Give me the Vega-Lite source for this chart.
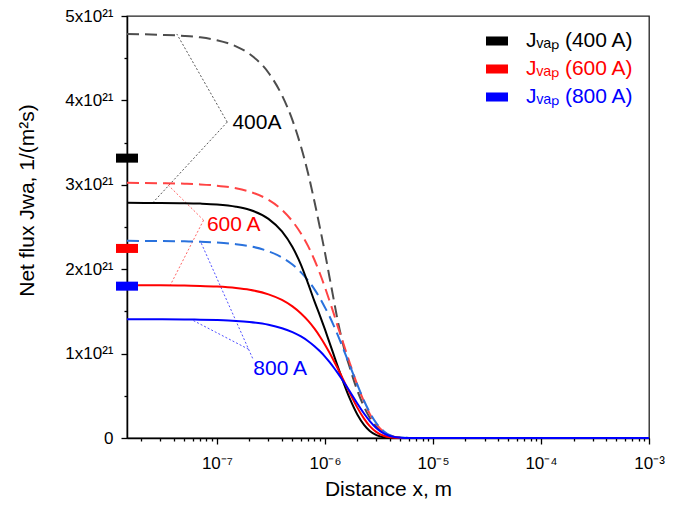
{
  "$schema": "https://vega.github.io/schema/vega-lite/v6.json",
  "width": 522,
  "height": 422,
  "autosize": {"type": "none"},
  "padding": {"left": 127, "top": 16, "right": 32, "bottom": 70},
  "background": "white",
  "config": {
    "font": "Liberation Sans",
    "view": {"stroke": "#222", "strokeWidth": 1.3},
    "axis": {"grid": false, "domainColor": "#000", "domainWidth": 1.5, "tickColor": "#000", "tickWidth": 1.3, "labelColor": "#000", "titleColor": "#000", "titleFontWeight": "normal", "labelFont": "Liberation Sans", "titleFont": "Liberation Sans"}
  },
  "datasets": {
    "solid": [
      {"cur": "400 A", "x": 1.47e-8, "J": 2.786}, {"cur": "400 A", "x": 3e-8, "J": 2.785}, {"cur": "400 A", "x": 5e-8, "J": 2.782}, {"cur": "400 A", "x": 7e-8, "J": 2.777}, {"cur": "400 A", "x": 1e-7, "J": 2.767}, {"cur": "400 A", "x": 1.5e-7, "J": 2.741}, {"cur": "400 A", "x": 2e-7, "J": 2.704}, {"cur": "400 A", "x": 3e-7, "J": 2.596}, {"cur": "400 A", "x": 4e-7, "J": 2.447}, {"cur": "400 A", "x": 5e-7, "J": 2.262}, {"cur": "400 A", "x": 6e-7, "J": 2.052}, {"cur": "400 A", "x": 7e-7, "J": 1.826}, {"cur": "400 A", "x": 8e-7, "J": 1.618}, {"cur": "400 A", "x": 9e-7, "J": 1.447}, {"cur": "400 A", "x": 1e-6, "J": 1.286}, {"cur": "400 A", "x": 1.1e-6, "J": 1.133}, {"cur": "400 A", "x": 1.2e-6, "J": 0.993}, {"cur": "400 A", "x": 1.3e-6, "J": 0.864}, {"cur": "400 A", "x": 1.4e-6, "J": 0.747}, {"cur": "400 A", "x": 1.5e-6, "J": 0.642}, {"cur": "400 A", "x": 1.7e-6, "J": 0.466}, {"cur": "400 A", "x": 2e-6, "J": 0.276}, {"cur": "400 A", "x": 2.3e-6, "J": 0.156}, {"cur": "400 A", "x": 2.6e-6, "J": 0.084}, {"cur": "400 A", "x": 3e-6, "J": 0.035}, {"cur": "400 A", "x": 3.5e-6, "J": 0.010}, {"cur": "400 A", "x": 4e-6, "J": 0.003}, {"cur": "400 A", "x": 5e-6, "J": 0}, {"cur": "400 A", "x": 1e-5, "J": 0}, {"cur": "400 A", "x": 1e-4, "J": 0}, {"cur": "400 A", "x": 1e-3, "J": 0},
      {"cur": "600 A", "x": 1.47e-8, "J": 1.811}, {"cur": "600 A", "x": 3e-8, "J": 1.809}, {"cur": "600 A", "x": 5e-8, "J": 1.806}, {"cur": "600 A", "x": 7e-8, "J": 1.802}, {"cur": "600 A", "x": 1e-7, "J": 1.794}, {"cur": "600 A", "x": 1.5e-7, "J": 1.777}, {"cur": "600 A", "x": 2e-7, "J": 1.756}, {"cur": "600 A", "x": 3e-7, "J": 1.702}, {"cur": "600 A", "x": 4e-7, "J": 1.636}, {"cur": "600 A", "x": 5e-7, "J": 1.559}, {"cur": "600 A", "x": 6e-7, "J": 1.475}, {"cur": "600 A", "x": 7e-7, "J": 1.387}, {"cur": "600 A", "x": 8e-7, "J": 1.295}, {"cur": "600 A", "x": 9e-7, "J": 1.2}, {"cur": "600 A", "x": 1e-6, "J": 1.106}, {"cur": "600 A", "x": 1.1e-6, "J": 1.013}, {"cur": "600 A", "x": 1.2e-6, "J": 0.922}, {"cur": "600 A", "x": 1.3e-6, "J": 0.835}, {"cur": "600 A", "x": 1.4e-6, "J": 0.752}, {"cur": "600 A", "x": 1.5e-6, "J": 0.673}, {"cur": "600 A", "x": 1.7e-6, "J": 0.531}, {"cur": "600 A", "x": 2e-6, "J": 0.357}, {"cur": "600 A", "x": 2.3e-6, "J": 0.23}, {"cur": "600 A", "x": 2.6e-6, "J": 0.141}, {"cur": "600 A", "x": 3e-6, "J": 0.07}, {"cur": "600 A", "x": 3.5e-6, "J": 0.026}, {"cur": "600 A", "x": 4e-6, "J": 0.009}, {"cur": "600 A", "x": 5e-6, "J": 0.001}, {"cur": "600 A", "x": 6e-6, "J": 0}, {"cur": "600 A", "x": 1e-5, "J": 0}, {"cur": "600 A", "x": 1e-4, "J": 0}, {"cur": "600 A", "x": 1e-3, "J": 0},
      {"cur": "800 A", "x": 1.47e-8, "J": 1.407}, {"cur": "800 A", "x": 3e-8, "J": 1.406}, {"cur": "800 A", "x": 5e-8, "J": 1.404}, {"cur": "800 A", "x": 7e-8, "J": 1.402}, {"cur": "800 A", "x": 1e-7, "J": 1.397}, {"cur": "800 A", "x": 1.5e-7, "J": 1.387}, {"cur": "800 A", "x": 2e-7, "J": 1.374}, {"cur": "800 A", "x": 3e-7, "J": 1.342}, {"cur": "800 A", "x": 4e-7, "J": 1.301}, {"cur": "800 A", "x": 5e-7, "J": 1.255}, {"cur": "800 A", "x": 6e-7, "J": 1.203}, {"cur": "800 A", "x": 7e-7, "J": 1.147}, {"cur": "800 A", "x": 8e-7, "J": 1.088}, {"cur": "800 A", "x": 9e-7, "J": 1.027}, {"cur": "800 A", "x": 1e-6, "J": 0.965}, {"cur": "800 A", "x": 1.1e-6, "J": 0.901}, {"cur": "800 A", "x": 1.2e-6, "J": 0.838}, {"cur": "800 A", "x": 1.3e-6, "J": 0.777}, {"cur": "800 A", "x": 1.4e-6, "J": 0.717}, {"cur": "800 A", "x": 1.5e-6, "J": 0.659}, {"cur": "800 A", "x": 1.7e-6, "J": 0.55}, {"cur": "800 A", "x": 2e-6, "J": 0.406}, {"cur": "800 A", "x": 2.3e-6, "J": 0.29}, {"cur": "800 A", "x": 2.6e-6, "J": 0.2}, {"cur": "800 A", "x": 3e-6, "J": 0.116}, {"cur": "800 A", "x": 3.5e-6, "J": 0.054}, {"cur": "800 A", "x": 4e-6, "J": 0.023}, {"cur": "800 A", "x": 5e-6, "J": 0.003}, {"cur": "800 A", "x": 6e-6, "J": 0}, {"cur": "800 A", "x": 1e-5, "J": 0}, {"cur": "800 A", "x": 1e-4, "J": 0}, {"cur": "800 A", "x": 1e-3, "J": 0}
    ],
    "dashed": [
      {"cur": "400 A", "x": 1.47e-8, "J": 4.787}, {"cur": "400 A", "x": 3e-8, "J": 4.777}, {"cur": "400 A", "x": 5e-8, "J": 4.764}, {"cur": "400 A", "x": 7e-8, "J": 4.747}, {"cur": "400 A", "x": 1e-7, "J": 4.713}, {"cur": "400 A", "x": 1.5e-7, "J": 4.641}, {"cur": "400 A", "x": 2e-7, "J": 4.551}, {"cur": "400 A", "x": 3e-7, "J": 4.328}, {"cur": "400 A", "x": 4e-7, "J": 4.06}, {"cur": "400 A", "x": 5e-7, "J": 3.766}, {"cur": "400 A", "x": 6e-7, "J": 3.451}, {"cur": "400 A", "x": 7e-7, "J": 3.128}, {"cur": "400 A", "x": 8e-7, "J": 2.799}, {"cur": "400 A", "x": 9e-7, "J": 2.487}, {"cur": "400 A", "x": 1e-6, "J": 2.196}, {"cur": "400 A", "x": 1.1e-6, "J": 1.911}, {"cur": "400 A", "x": 1.2e-6, "J": 1.654}, {"cur": "400 A", "x": 1.3e-6, "J": 1.418}, {"cur": "400 A", "x": 1.4e-6, "J": 1.226}, {"cur": "400 A", "x": 1.5e-6, "J": 1.067}, {"cur": "400 A", "x": 1.7e-6, "J": 0.832}, {"cur": "400 A", "x": 2e-6, "J": 0.558}, {"cur": "400 A", "x": 2.3e-6, "J": 0.37}, {"cur": "400 A", "x": 2.6e-6, "J": 0.24}, {"cur": "400 A", "x": 3e-6, "J": 0.132}, {"cur": "400 A", "x": 3.5e-6, "J": 0.062}, {"cur": "400 A", "x": 4e-6, "J": 0.028}, {"cur": "400 A", "x": 5e-6, "J": 0.005}, {"cur": "400 A", "x": 6e-6, "J": 0.001}, {"cur": "400 A", "x": 8e-6, "J": 0}, {"cur": "400 A", "x": 1e-5, "J": 0}, {"cur": "400 A", "x": 1e-4, "J": 0}, {"cur": "400 A", "x": 1e-3, "J": 0},
      {"cur": "600 A", "x": 1.47e-8, "J": 3.023}, {"cur": "600 A", "x": 3e-8, "J": 3.019}, {"cur": "600 A", "x": 5e-8, "J": 3.013}, {"cur": "600 A", "x": 7e-8, "J": 3.005}, {"cur": "600 A", "x": 1e-7, "J": 2.99}, {"cur": "600 A", "x": 1.5e-7, "J": 2.959}, {"cur": "600 A", "x": 2e-7, "J": 2.919}, {"cur": "600 A", "x": 3e-7, "J": 2.821}, {"cur": "600 A", "x": 4e-7, "J": 2.703}, {"cur": "600 A", "x": 5e-7, "J": 2.568}, {"cur": "600 A", "x": 6e-7, "J": 2.423}, {"cur": "600 A", "x": 7e-7, "J": 2.271}, {"cur": "600 A", "x": 8e-7, "J": 2.109}, {"cur": "600 A", "x": 9e-7, "J": 1.946}, {"cur": "600 A", "x": 1e-6, "J": 1.785}, {"cur": "600 A", "x": 1.1e-6, "J": 1.629}, {"cur": "600 A", "x": 1.2e-6, "J": 1.483}, {"cur": "600 A", "x": 1.3e-6, "J": 1.34}, {"cur": "600 A", "x": 1.4e-6, "J": 1.216}, {"cur": "600 A", "x": 1.5e-6, "J": 1.098}, {"cur": "600 A", "x": 1.7e-6, "J": 0.886}, {"cur": "600 A", "x": 2e-6, "J": 0.625}, {"cur": "600 A", "x": 2.3e-6, "J": 0.43}, {"cur": "600 A", "x": 2.6e-6, "J": 0.286}, {"cur": "600 A", "x": 3e-6, "J": 0.161}, {"cur": "600 A", "x": 3.5e-6, "J": 0.074}, {"cur": "600 A", "x": 4e-6, "J": 0.032}, {"cur": "600 A", "x": 5e-6, "J": 0.005}, {"cur": "600 A", "x": 6e-6, "J": 0.001}, {"cur": "600 A", "x": 8e-6, "J": 0}, {"cur": "600 A", "x": 1e-5, "J": 0}, {"cur": "600 A", "x": 1e-4, "J": 0}, {"cur": "600 A", "x": 1e-3, "J": 0},
      {"cur": "800 A", "x": 1.47e-8, "J": 2.336}, {"cur": "800 A", "x": 3e-8, "J": 2.333}, {"cur": "800 A", "x": 5e-8, "J": 2.33}, {"cur": "800 A", "x": 7e-8, "J": 2.325}, {"cur": "800 A", "x": 1e-7, "J": 2.316}, {"cur": "800 A", "x": 1.5e-7, "J": 2.297}, {"cur": "800 A", "x": 2e-7, "J": 2.273}, {"cur": "800 A", "x": 3e-7, "J": 2.212}, {"cur": "800 A", "x": 4e-7, "J": 2.139}, {"cur": "800 A", "x": 5e-7, "J": 2.055}, {"cur": "800 A", "x": 6e-7, "J": 1.962}, {"cur": "800 A", "x": 7e-7, "J": 1.864}, {"cur": "800 A", "x": 8e-7, "J": 1.761}, {"cur": "800 A", "x": 9e-7, "J": 1.655}, {"cur": "800 A", "x": 1e-6, "J": 1.547}, {"cur": "800 A", "x": 1.1e-6, "J": 1.444}, {"cur": "800 A", "x": 1.2e-6, "J": 1.338}, {"cur": "800 A", "x": 1.3e-6, "J": 1.233}, {"cur": "800 A", "x": 1.4e-6, "J": 1.133}, {"cur": "800 A", "x": 1.5e-6, "J": 1.036}, {"cur": "800 A", "x": 1.7e-6, "J": 0.859}, {"cur": "800 A", "x": 2e-6, "J": 0.627}, {"cur": "800 A", "x": 2.3e-6, "J": 0.441}, {"cur": "800 A", "x": 2.6e-6, "J": 0.302}, {"cur": "800 A", "x": 3e-6, "J": 0.173}, {"cur": "800 A", "x": 3.5e-6, "J": 0.081}, {"cur": "800 A", "x": 4e-6, "J": 0.034}, {"cur": "800 A", "x": 5e-6, "J": 0.005}, {"cur": "800 A", "x": 6e-6, "J": 0.001}, {"cur": "800 A", "x": 8e-6, "J": 0}, {"cur": "800 A", "x": 1e-5, "J": 0}, {"cur": "800 A", "x": 1e-4, "J": 0}, {"cur": "800 A", "x": 1e-3, "J": 0}
    ],
    "markers": [
      {"cur": "400 A", "x": 1.47e-8, "J": 3.316},
      {"cur": "600 A", "x": 1.47e-8, "J": 2.246},
      {"cur": "800 A", "x": 1.47e-8, "J": 1.799}
    ],
    "labels": [
      {"ann": "400A", "x": 1.39e-7, "J": 3.737},
      {"ann": "600 A", "x": 8.07e-8, "J": 2.528},
      {"ann": "800 A", "x": 2.17e-7, "J": 0.82}
    ],
    "leaders": [
      {"ann": "400A", "x": 1.245e-7, "J": 3.743, "x2": 4.25e-8, "J2": 4.787},
      {"ann": "400A", "x": 1.245e-7, "J": 3.743, "x2": 2.54e-8, "J2": 2.786},
      {"ann": "600 A", "x": 7.52e-8, "J": 2.581, "x2": 3.37e-8, "J2": 3.023},
      {"ann": "600 A", "x": 7.52e-8, "J": 2.581, "x2": 3.7e-8, "J2": 1.811},
      {"ann": "800 A", "x": 2.14e-7, "J": 0.944, "x2": 7.0e-8, "J2": 2.336},
      {"ann": "800 A", "x": 1.96e-7, "J": 1.052, "x2": 5.87e-8, "J2": 1.4}
    ]
  },
  "encoding": {
    "x": {
      "field": "x", "type": "quantitative",
      "scale": {"type": "log", "domain": [1.47e-8, 1e-3], "nice": false},
      "axis": {
        "title": "Distance x, m", "titleFontSize": 21, "titlePadding": 7,
        "values": [2e-8, 3e-8, 4e-8, 5e-8, 6e-8, 7e-8, 8e-8, 9e-8, 1e-7, 2e-7, 3e-7, 4e-7, 5e-7, 6e-7, 7e-7, 8e-7, 9e-7, 1e-6, 2e-6, 3e-6, 4e-6, 5e-6, 6e-6, 7e-6, 8e-6, 9e-6, 1e-5, 2e-5, 3e-5, 4e-5, 5e-5, 6e-5, 7e-5, 8e-5, 9e-5, 1e-4, 2e-4, 3e-4, 4e-4, 5e-4, 6e-4, 7e-4, 8e-4, 9e-4, 1e-3],
        "labelExpr": "abs(log(datum.value)/LN10 - round(log(datum.value)/LN10)) < 0.01 ? '10⁻' + ['⁰','¹','²','³','⁴','⁵','⁶','⁷','⁸','⁹'][-round(log(datum.value)/LN10)] : ''",
        "labelFontSize": 17, "labelPadding": 11, "labelFlush": false, "labelOverlap": false,
        "tickSize": {"condition": {"test": "abs(log(datum.value)/LN10 - round(log(datum.value)/LN10)) < 0.01", "value": 6}, "value": 3}
      }
    },
    "y": {
      "field": "J", "type": "quantitative",
      "scale": {"domain": [0, 5], "nice": false},
      "axis": {
        "title": "Net flux Jwa,  1/(m²s)", "titleFontSize": 21,
        "titleX": -100, "titleY": 184, "titleAlign": "center", "titleBaseline": "middle", "titleAngle": -90,
        "values": [0, 0.5, 1, 1.5, 2, 2.5, 3, 3.5, 4, 4.5, 5],
        "labelExpr": "datum.value == 0 ? '0' : (datum.value % 1 == 0 ? datum.value + 'x10²¹' : '')",
        "labelFontSize": 17, "labelPadding": 8, "labelOverlap": false, "labelFlush": false,
        "tickSize": {"condition": {"test": "datum.value % 1 == 0", "value": 6}, "value": 3}
      }
    }
  },
  "layer": [
    {
      "data": {"name": "leaders"},
      "mark": {"type": "rule", "strokeDash": [2, 2], "strokeWidth": 0.9},
      "encoding": {
        "x2": {"field": "x2"},
        "y2": {"field": "J2"},
        "color": {"field": "ann", "type": "nominal", "scale": {"domain": ["400A", "600 A", "800 A"], "range": ["#444444", "#ff5555", "#3c3cff"]}, "legend": null}
      }
    },
    {
      "data": {"name": "dashed"},
      "mark": {"type": "line", "strokeDash": [12, 6], "strokeWidth": 2, "interpolate": "monotone"},
      "encoding": {
        "color": {"field": "cur", "type": "nominal", "scale": {"domain": ["400 A", "600 A", "800 A"], "range": ["#4d4d4d", "#ff4444", "#2a72dd"]}, "legend": null}
      }
    },
    {
      "data": {"name": "solid"},
      "mark": {"type": "line", "strokeWidth": 2, "interpolate": "monotone"},
      "encoding": {
        "color": {"field": "cur", "type": "nominal", "scale": {"domain": ["400 A", "600 A", "800 A"], "range": ["#000000", "#ff0000", "#0000ff"]}, "legend": null}
      }
    },
    {
      "data": {"name": "markers"},
      "mark": {"type": "point", "shape": "M-1,-0.41L1,-0.41L1,0.41L-1,0.41Z", "size": 484, "filled": true, "opacity": 1, "strokeWidth": 0, "clip": false},
      "encoding": {
        "color": {
          "field": "cur", "type": "nominal",
          "scale": {"domain": ["400 A", "600 A", "800 A"], "range": ["#000000", "#ff0000", "#0000ff"]},
          "legend": {
            "orient": "none", "legendX": 359, "legendY": 14, "title": null, "padding": 0,
            "symbolType": "M-1,-0.41L1,-0.41L1,0.41L-1,0.41Z", "symbolSize": 484, "symbolStrokeWidth": 0, "symbolOpacity": 1,
            "labelFont": "Liberation Sans", "labelFontSize": 21, "labelOffset": 18, "rowPadding": 7, "labelLimit": 300,
            "labelExpr": "'Jᵥₐₚ (' + datum.value + ')'",
            "labelColor": {"expr": "datum.value == '400 A' ? '#000000' : (datum.value == '600 A' ? '#ff0000' : '#0000ff')"}
          }
        }
      }
    },
    {
      "data": {"name": "labels"},
      "mark": {"type": "text", "align": "left", "baseline": "middle", "fontSize": 21, "font": "Liberation Sans"},
      "encoding": {
        "text": {"field": "ann"},
        "color": {"field": "ann", "type": "nominal", "scale": {"domain": ["400A", "600 A", "800 A"], "range": ["#000000", "#ff0000", "#0000ff"]}, "legend": null}
      }
    }
  ],
  "resolve": {"scale": {"color": "independent"}}
}
